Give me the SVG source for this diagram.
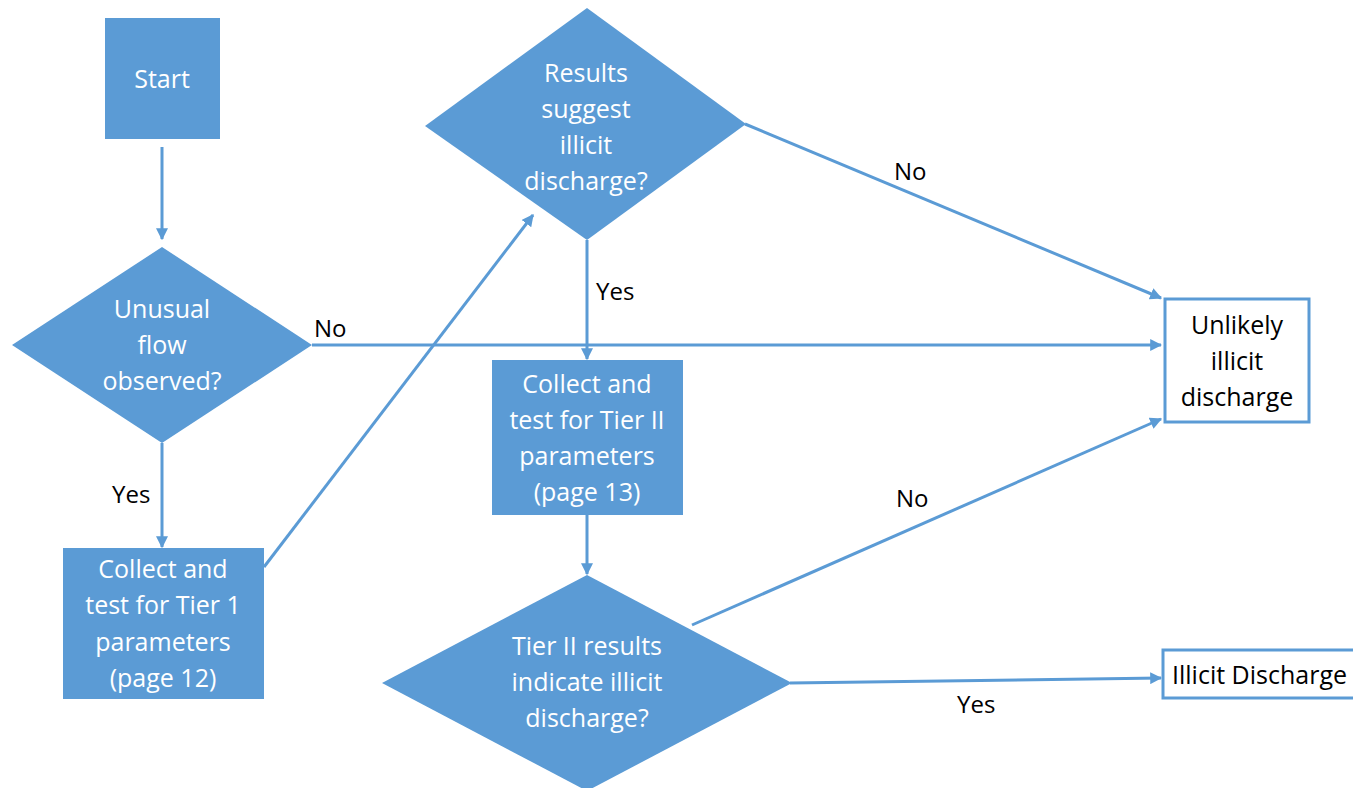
<svg xmlns="http://www.w3.org/2000/svg" width="1353" height="788" viewBox="0 0 1353 788">
<style>
.shape{fill:#5B9BD5;stroke:none}
.box{fill:#FFFFFF;stroke:#5B9BD5;stroke-width:3}
.wt{font-family:"Open Sans","Liberation Sans",sans-serif;font-size:25px;fill:#FFFFFF;text-anchor:middle}
.bt{font-family:"Open Sans","Liberation Sans",sans-serif;font-size:25px;fill:#000000;text-anchor:middle}
.lbl{font-family:"Open Sans","Liberation Sans",sans-serif;font-size:24px;fill:#000000}
.conn{fill:none;stroke:#5B9BD5;stroke-width:3;marker-end:url(#arr)}
</style>
<defs>
<marker id="arr" viewBox="0 0 10 10" refX="9" refY="5" markerWidth="12" markerHeight="12" markerUnits="userSpaceOnUse" orient="auto">
<path d="M0,0 L10,5 L0,10 z" fill="#5B9BD5"/>
</marker>
</defs>
<rect width="1353" height="788" fill="#FFFFFF"/>

<g id="connectors">
<line class="conn" x1="162" y1="147" x2="162" y2="239"/>
<line class="conn" x1="312" y1="345" x2="1161" y2="345"/>
<line class="conn" x1="162" y1="443" x2="162" y2="547"/>
<line class="conn" x1="264" y1="567" x2="533" y2="215"/>
<line class="conn" x1="745" y1="124" x2="1161" y2="298"/>
<line class="conn" x1="587" y1="240" x2="587" y2="359"/>
<line class="conn" x1="587" y1="515" x2="587" y2="574"/>
<line class="conn" x1="692" y1="625" x2="1161" y2="419"/>
<line class="conn" x1="790" y1="683" x2="1161" y2="678"/>
</g>

<g id="labels">
<text class="lbl" x="314" y="337">No</text>
<text class="lbl" x="112" y="503">Yes</text>
<text class="lbl" x="894" y="180">No</text>
<text class="lbl" x="596" y="300">Yes</text>
<text class="lbl" x="896" y="507">No</text>
<text class="lbl" x="957" y="713">Yes</text>
</g>

<g id="start">
<rect class="shape" x="105" y="18" width="115" height="121"/>
<text class="wt" x="162" y="88">Start</text>
</g>

<g id="unusual-flow">
<polygon class="shape" points="162,247 312,345 162,443 12,345"/>
<text class="wt" x="162" y="318">Unusual</text>
<text class="wt" x="162" y="354">flow</text>
<text class="wt" x="162" y="390">observed?</text>
</g>

<g id="tier1">
<rect class="shape" x="63" y="548" width="201" height="151"/>
<text class="wt" x="163" y="578">Collect and</text>
<text class="wt" x="163" y="614">test for  Tier 1</text>
<text class="wt" x="163" y="651">parameters</text>
<text class="wt" x="163" y="687">(page 12)</text>
</g>

<g id="results-suggest">
<polygon class="shape" points="587,8 746,124 587,240 425,126"/>
<text class="wt" x="586" y="82">Results</text>
<text class="wt" x="586" y="118">suggest</text>
<text class="wt" x="586" y="154">illicit</text>
<text class="wt" x="586" y="190">discharge?</text>
</g>

<g id="tier2">
<rect class="shape" x="492" y="360" width="191" height="155"/>
<text class="wt" x="587" y="393">Collect and</text>
<text class="wt" x="587" y="429">test for  Tier II</text>
<text class="wt" x="587" y="465">parameters</text>
<text class="wt" x="587" y="501">(page 13)</text>
</g>

<g id="tier2-results">
<polygon class="shape" points="587,575 792,683 587,791 382,683"/>
<text class="wt" x="587" y="655">Tier II results</text>
<text class="wt" x="587" y="691">indicate illicit</text>
<text class="wt" x="587" y="727">discharge?</text>
</g>

<g id="unlikely">
<rect class="box" x="1165" y="299" width="144" height="123"/>
<text class="bt" x="1237" y="334">Unlikely</text>
<text class="bt" x="1237" y="370">illicit</text>
<text class="bt" x="1237" y="406">discharge</text>
</g>

<g id="illicit">
<rect class="box" x="1163" y="650" width="200" height="48"/>
<text class="bt" x="1172" y="684" style="text-anchor:start">Illicit Discharge</text>
</g>
</svg>
